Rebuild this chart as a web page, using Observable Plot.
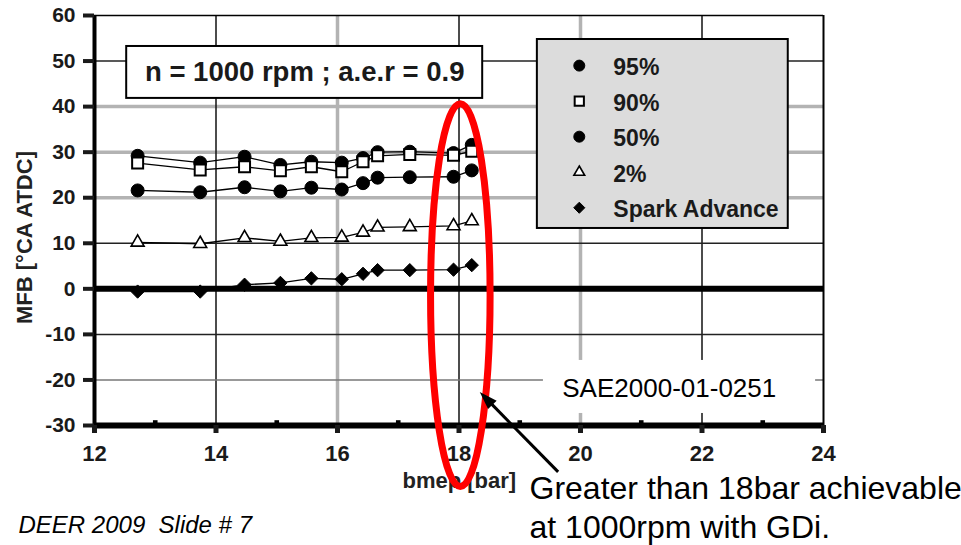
<!DOCTYPE html>
<html>
<head>
<meta charset="utf-8">
<script src="https://cdn.jsdelivr.net/npm/d3@7"></script>
<script src="https://cdn.jsdelivr.net/npm/@observablehq/plot@0.6"></script>
<style>
  html, body { margin: 0; padding: 0; background: #fff; }
  #chart { width: 961px; height: 545px; }
</style>
</head>
<body>
<div id="chart"></div>
<script>
// ---- data ----
const bmep = [12.71, 13.74, 14.47, 15.06, 15.57, 16.07, 16.42, 16.66, 17.19, 17.91, 18.21];
const mfb95 = [29.2, 27.7, 29.0, 27.2, 27.9, 27.7, 28.7, 30.0, 30.1, 29.8, 31.6];
const mfb90 = [27.6, 26.1, 26.8, 25.9, 26.8, 25.7, 27.9, 29.2, 29.5, 29.3, 30.2];
const mfb50 = [21.6, 21.2, 22.3, 21.4, 22.2, 21.8, 23.2, 24.4, 24.5, 24.6, 26.0];
const mfb2 = [10.2, 9.9, 11.2, 10.4, 11.2, 11.3, 12.4, 13.5, 13.6, 13.8, 14.9];
const sparkAdvance = [-0.6, -0.6, 0.9, 1.3, 2.3, 2.1, 3.3, 4.1, 4.1, 4.2, 5.2];

const seriesNames = ["95%", "90%", "50%", "2%", "Spark Advance"];
const xTicks = [12, 14, 16, 18, 20, 22, 24];
const xMinorTicks = [13, 15, 17, 19, 21, 23];
const yTicks = [-30, -20, -10, 0, 10, 20, 30, 40, 50, 60];
const gridXDark = [14, 18, 22];
const gridXLight = [16, 20];
const gridYDark = [50, 10, -10];
const gridYMid = [-20];
const gridYLight = [40, 30, 20];

const titleText = "n = 1000 rpm ; a.e.r = 0.9";
const sourceText = "SAE2000-01-0251";
const noteText = "Greater than 18bar achievable\nat 1000rpm with GDi.";
const footerText = "DEER 2009  Slide # 7";
const xLabel = "bmep [bar]";
const yLabel = "MFB [°CA ATDC]";

// ---- styles & layout (kept apart from the data) ----
const seriesValues = [mfb95, mfb90, mfb50, mfb2, sparkAdvance];
const styles = [
  {symbol: "circle", r: 6.5, fill: "#000", stroke: "#000", lr: 5.5, sw: 1},
  {symbol: "square", r: 6.2, fill: "#fff", stroke: "#000", lr: 5.2, sw: 2},
  {symbol: "circle", r: 6.5, fill: "#000", stroke: "#000", lr: 5.5, sw: 1},
  {symbol: "triangle", r: 4.8, fill: "#fff", stroke: "#000", lr: 4.0, sw: 1.6},
  {symbol: "diamond2", r: 6, fill: "#000", stroke: "#000", lr: 5.0, sw: 1}
];
const layout = {
  titleBox: {x1: 12.53, x2: 18.39, y1: 41.8, y2: 53.2, cx: 15.46, cy: 47.5},
  legendBox: {x1: 19.29, x2: 23.42, y1: 13.25, y2: 54.73},
  legendSymbolX: 19.98, legendLabelX: 20.54, legendTopY: 49.0, legendStep: 7.8,
  sourceBox: {x1: 19.39, x2: 23.87, y1: -27.36, y2: -15.72},
  sourceAt: {x: 19.70, y: -23.85},
  arrow: {x1: 19.64, y1: -40.3, x2: 18.35, y2: -22.75},
  ellipse: {cx: 18.03, cy: -1.5, rx: 0.49, ry: 42}
};

const rows = seriesNames.map((name, i) =>
  bmep.map((x, j) => ({series: name, bmep: x, mfb: seriesValues[i][j]})));
const legendRows = seriesNames.map((name, i) =>
  ({name, x: layout.legendSymbolX, lx: layout.legendLabelX, y: layout.legendTopY - i * layout.legendStep}));

const font = "'Liberation Sans', Arial, Helvetica, sans-serif";
const SVGNS = "http://www.w3.org/2000/svg";

const marks = [
  // grid
  Plot.ruleX(gridXLight, {stroke: "#b3b3b3", strokeWidth: 3.5}),
  Plot.ruleY(gridYLight, {stroke: "#b3b3b3", strokeWidth: 3.5}),
  Plot.ruleX(gridXDark, {stroke: "#111", strokeWidth: 1.5}),
  Plot.ruleY(gridYDark, {stroke: "#222", strokeWidth: 1.5}),
  Plot.ruleY(gridYMid, {stroke: "#777", strokeWidth: 1.5}),
  // white box behind the source text
  Plot.rect([layout.sourceBox], {x1: "x1", x2: "x2", y1: "y1", y2: "y2", fill: "#fff"}),
  Plot.text([layout.sourceAt], {x: "x", y: "y", text: () => sourceText, textAnchor: "start", lineAnchor: "bottom",
    fontSize: 26, fontWeight: "normal", fill: "#000"}),
  // frame
  Plot.ruleY([60], {stroke: "#000", strokeWidth: 1.5}),
  Plot.ruleX([24], {stroke: "#000", strokeWidth: 2}),
  Plot.ruleX([12], {stroke: "#000", strokeWidth: 4}),
  Plot.ruleY([-30], {stroke: "#000", strokeWidth: 6}),
  Plot.ruleY([0], {stroke: "#000", strokeWidth: 6}),
  Plot.dot(xMinorTicks, {x: d => d, y: () => -30, symbol: "square", r: 2.6, dy: -3, fill: "#000"}),
  // axes
  Plot.axisX({ticks: xTicks, tickSize: 8, tickPadding: 12, strokeWidth: 5, fontSize: 22, fontWeight: "bold",
    label: null, tickFormat: d => String(d)}),
  Plot.axisY({ticks: yTicks, tickSize: 11, tickPadding: 8, strokeWidth: 4, fontSize: 21, fontWeight: "bold",
    label: null, tickFormat: d => String(d)}),
  Plot.text([xLabel], {frameAnchor: "bottom-left", dx: 308, dy: 62, text: d => d, textAnchor: "start",
    lineAnchor: "bottom", fontSize: 22, fontWeight: "bold", fill: "#222"}),
  Plot.text([yLabel], {frameAnchor: "left", dx: -63, dy: 17, rotate: -90, text: d => d, textAnchor: "middle",
    lineAnchor: "bottom", fontSize: 22, fontWeight: "bold", fill: "#222"}),
  // series lines
  ...rows.map(r => Plot.line(r, {x: "bmep", y: "mfb", stroke: "#000", strokeWidth: 1.3})),
  // series markers
  ...rows.map((r, i) => Plot.dot(r, {x: "bmep", y: "mfb", symbol: styles[i].symbol, r: styles[i].r,
    fill: styles[i].fill, stroke: styles[i].stroke, strokeWidth: styles[i].sw})),
  // title box
  Plot.rect([layout.titleBox], {x1: "x1", x2: "x2", y1: "y1", y2: "y2", fill: "#fff", stroke: "#000", strokeWidth: 2}),
  Plot.text([layout.titleBox], {x: "cx", y: "cy", text: () => titleText, fontSize: 27.5, fontWeight: "bold", fill: "#1a1a1a"}),
  // legend
  Plot.rect([layout.legendBox], {x1: "x1", x2: "x2", y1: "y1", y2: "y2", fill: "#dcdcdc", stroke: "#000", strokeWidth: 2}),
  ...legendRows.map((d, i) => Plot.dot([d], {x: "x", y: "y", symbol: styles[i].symbol, r: styles[i].lr,
    fill: styles[i].fill, stroke: styles[i].stroke, strokeWidth: styles[i].sw})),
  Plot.text(legendRows, {x: "lx", y: "y", text: "name", textAnchor: "start", dy: 2, fontSize: 23, fontWeight: "bold", fill: "#1a1a1a"}),
  // red highlight ellipse
  (index, scales) => {
    const e = layout.ellipse;
    const el = document.createElementNS(SVGNS, "ellipse");
    el.setAttribute("cx", scales.x(e.cx));
    el.setAttribute("cy", scales.y(e.cy));
    el.setAttribute("rx", Math.abs(scales.x(e.cx + e.rx) - scales.x(e.cx)));
    el.setAttribute("ry", Math.abs(scales.y(e.cy + e.ry) - scales.y(e.cy)));
    el.setAttribute("fill", "none");
    el.setAttribute("stroke", "#ff0000");
    el.setAttribute("stroke-width", 7);
    return el;
  },
  // arrow with a filled head
  (index, scales) => {
    const a = layout.arrow;
    const x1 = scales.x(a.x1), y1 = scales.y(a.y1), x2 = scales.x(a.x2), y2 = scales.y(a.y2);
    const len = Math.hypot(x2 - x1, y2 - y1), ux = (x2 - x1) / len, uy = (y2 - y1) / len;
    const hl = 18, hw = 6;
    const bx = x2 - ux * hl, by = y2 - uy * hl;
    const g = document.createElementNS(SVGNS, "g");
    const line = document.createElementNS(SVGNS, "line");
    line.setAttribute("x1", x1); line.setAttribute("y1", y1);
    line.setAttribute("x2", bx + ux * 2); line.setAttribute("y2", by + uy * 2);
    line.setAttribute("stroke", "#000"); line.setAttribute("stroke-width", 3);
    const head = document.createElementNS(SVGNS, "polygon");
    head.setAttribute("points", `${x2},${y2} ${bx - uy * hw},${by + ux * hw} ${bx + uy * hw},${by - ux * hw}`);
    head.setAttribute("fill", "#000");
    g.appendChild(line); g.appendChild(head);
    return g;
  },
  Plot.text([noteText], {frameAnchor: "bottom-left", dx: 435, dy: 112, text: d => d, textAnchor: "start",
    lineAnchor: "bottom", lineHeight: 1.2, fontSize: 32, fontWeight: "normal", fill: "#000"}),
  Plot.text([footerText], {frameAnchor: "bottom-left", dx: -76, dy: 107, text: d => d, textAnchor: "start",
    lineAnchor: "bottom", fontSize: 24, fontWeight: "normal", fontStyle: "italic", fill: "#000"})
];

const chart = Plot.plot({
  width: 961,
  height: 545,
  marginLeft: 94,
  marginRight: 138,
  marginTop: 15,
  marginBottom: 120,
  x: {domain: [12, 24], axis: null},
  y: {domain: [-30, 60], axis: null},
  style: {fontFamily: font, background: "#fff", color: "#1a1a1a", overflow: "visible"},
  marks
});
document.getElementById("chart").appendChild(chart);
</script>
</body>
</html>
